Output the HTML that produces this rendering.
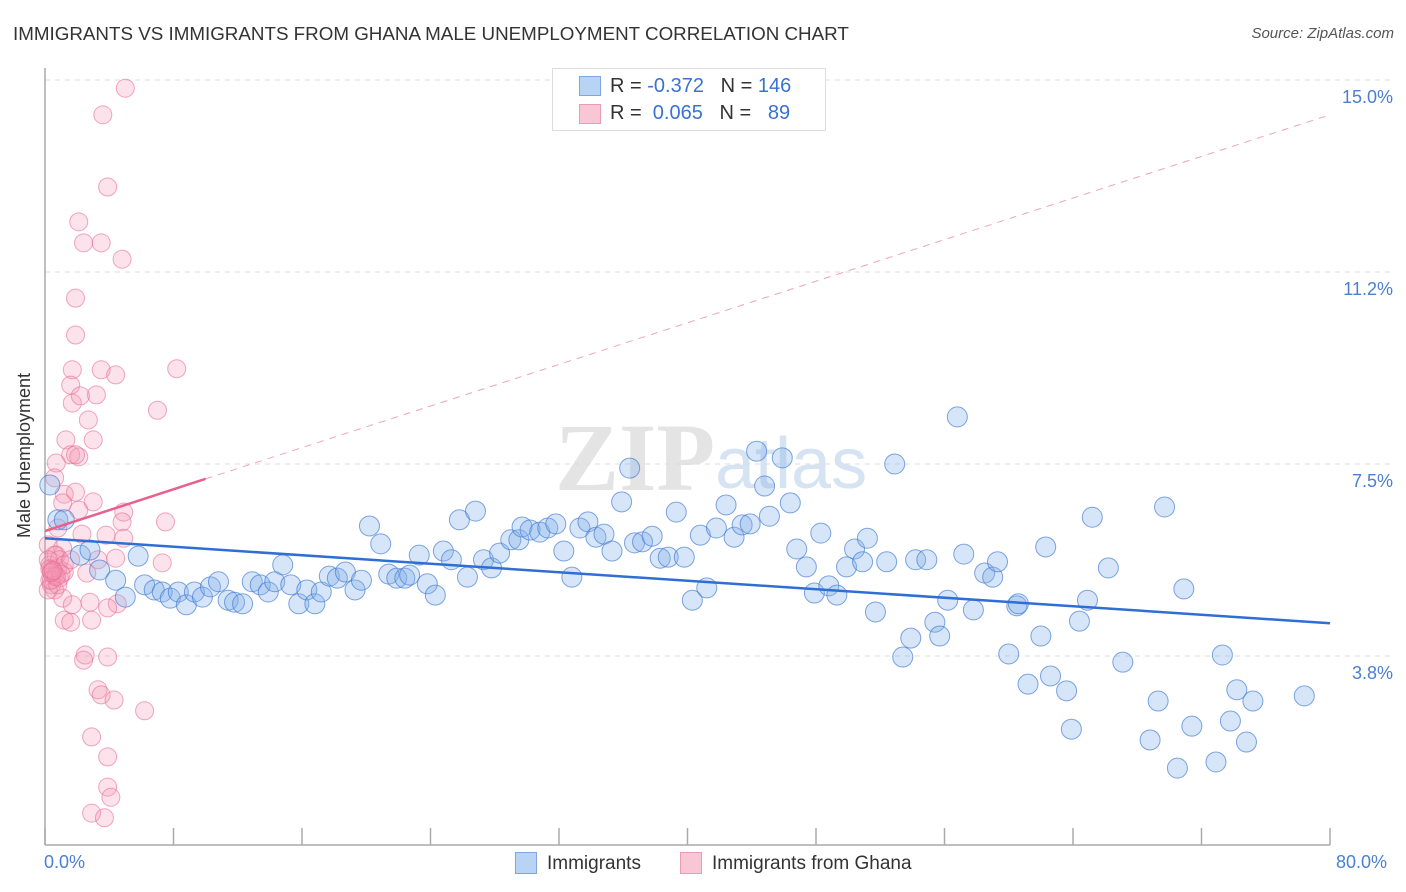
<!DOCTYPE html>
<html><head><meta charset="utf-8"><style>
body{margin:0;background:#fff;font-family:"Liberation Sans",sans-serif;}
#wrap{position:relative;width:1406px;height:892px;overflow:hidden;}
.t{position:absolute;white-space:nowrap;}
</style></head><body>
<div id="wrap">
<div class="t" style="left:13px;top:23px;font-size:18.8px;color:#333;">IMMIGRANTS VS IMMIGRANTS FROM GHANA MALE UNEMPLOYMENT CORRELATION CHART</div>
<div class="t" style="right:12px;top:25px;font-size:15px;color:#555;font-style:italic;">Source: ZipAtlas.com</div>
<svg id="svg" width="1406" height="892" style="position:absolute;left:0;top:0"></svg>
</div>
<script>
const xTicks=[0,8,16,24,32,40,48,56,64,72,80];
const yTicks=[3.75,7.5,11.25,15];
const yTickLabels=["3.8%","7.5%","11.2%","15.0%"];
const blueX=[0.3,0.8,1.2,2.2,2.8,3.4,4.4,5.0,5.8,6.2,6.8,7.3,7.8,8.3,8.8,9.3,9.8,10.3,10.8,11.4,11.8,12.3,12.9,13.4,13.9,14.3,14.8,15.3,15.8,16.3,16.8,17.2,17.7,18.2,18.7,19.3,19.7,20.2,20.9,21.4,21.9,22.4,22.7,23.3,23.8,24.3,24.8,25.3,25.8,26.3,26.8,27.3,27.8,28.3,29.0,29.5,29.7,30.2,30.8,31.3,31.8,32.3,32.8,33.3,33.8,34.3,34.8,35.3,35.9,36.4,36.7,37.2,37.8,38.3,38.8,39.3,39.8,40.3,40.8,41.2,41.8,42.4,42.9,43.4,43.9,44.3,44.8,45.1,45.9,46.4,46.8,47.4,47.9,48.3,48.8,49.3,49.9,50.4,50.9,51.2,51.7,52.4,52.9,53.4,53.9,54.2,54.9,55.4,55.7,56.2,56.8,57.2,57.8,58.5,59.0,59.3,60.0,60.5,60.6,61.2,62.0,62.3,62.6,63.6,63.9,64.4,64.9,65.2,66.2,67.1,68.8,69.3,69.7,70.5,70.9,71.4,72.9,73.3,73.8,74.2,74.8,75.2,78.4];
const blueY=[7.09,6.41,6.41,5.72,5.82,5.43,5.23,4.90,5.70,5.14,5.04,5.00,4.88,5.00,4.75,5.00,4.90,5.10,5.20,4.84,4.80,4.77,5.20,5.14,5.00,5.20,5.53,5.14,4.77,5.04,4.77,5.00,5.31,5.27,5.39,5.04,5.23,6.29,5.94,5.35,5.27,5.27,5.33,5.72,5.16,4.94,5.80,5.63,6.41,5.29,6.58,5.63,5.47,5.76,6.02,6.02,6.27,6.21,6.17,6.25,6.33,5.80,5.29,6.25,6.37,6.07,6.13,5.80,6.76,7.42,5.96,5.98,6.09,5.66,5.68,6.56,5.68,4.84,6.11,5.08,6.25,6.70,6.07,6.31,6.33,7.75,7.07,6.48,7.62,6.74,5.84,5.49,4.98,6.15,5.12,4.94,5.49,5.84,5.59,6.05,4.61,5.59,7.50,3.73,4.10,5.63,5.63,4.41,4.14,4.84,8.42,5.74,4.65,5.37,5.29,5.59,3.79,4.73,4.77,3.20,4.14,5.88,3.36,3.07,2.32,4.43,4.84,6.46,5.47,3.63,2.11,2.87,6.66,1.56,5.06,2.38,1.68,3.77,2.48,3.09,2.07,2.87,2.97];
const pinkX=[5.0,3.6,3.9,2.1,2.4,3.5,4.8,1.9,1.9,1.7,3.5,4.4,8.2,1.6,3.2,1.7,2.2,7.0,2.7,1.3,3.0,1.6,2.1,1.9,0.7,0.6,1.2,1.9,3.0,1.1,2.1,4.9,7.5,4.8,0.8,2.3,3.8,4.9,0.2,1.1,0.7,3.3,4.4,7.3,0.3,0.4,0.6,0.8,0.9,1.2,2.6,0.4,0.6,1.1,1.7,2.8,4.5,3.9,1.2,1.6,2.9,2.5,2.4,3.9,3.3,3.5,4.3,6.2,2.9,3.9,3.9,4.1,2.9,3.7,0.3,0.6,0.9,0.2,0.4,0.2,0.8,1.2,1.6,0.5,0.3,1.0,0.7,0.4,0.5];
const pinkY=[14.84,14.32,12.91,12.23,11.82,11.82,11.50,10.74,10.02,9.34,9.34,9.24,9.36,9.04,8.85,8.69,8.83,8.55,8.36,7.97,7.97,7.68,7.64,7.68,7.52,7.23,6.91,6.95,6.76,6.74,6.60,6.56,6.37,6.37,6.25,6.13,6.11,6.05,5.92,5.86,5.72,5.63,5.66,5.57,5.53,5.43,5.33,5.47,5.27,5.39,5.37,5.14,5.04,4.88,4.75,4.80,4.77,4.69,4.45,4.41,4.45,3.77,3.67,3.73,3.09,2.99,2.89,2.68,2.17,1.78,1.19,0.99,0.68,0.59,5.23,5.72,5.63,5.63,5.23,5.04,5.14,5.53,5.63,5.40,5.45,5.35,5.30,5.38,5.42];
const blueTrend=[[0,6.05],[80,4.39]];
const pinkTrend=[[0,6.19],[10,7.21],[80,14.32]];

const X0=45,X1=1330,Y0=848,YP=51.2;
const sx=v=>X0+(v/80)*(X1-X0);
const sy=v=>Y0-v*YP;
const svg=document.getElementById('svg');
const NS='http://www.w3.org/2000/svg';
function mk(tag,attrs){const e=document.createElementNS(NS,tag);for(const k in attrs)e.setAttribute(k,attrs[k]);svg.appendChild(e);return e;}

let wm=mk('text',{x:555,y:490,'font-size':96,'font-family':'Liberation Serif,serif',fill:'#e4e4e4','font-weight':'bold'});wm.textContent='ZIP';


let wm2=mk('text',{x:715,y:488,'font-size':72,'font-family':'Liberation Sans,sans-serif',fill:'#d5e3f3'});wm2.textContent='atlas';



yTicks.forEach((v,i)=>{
 const g=mk('line',{x1:X0,x2:1392,y1:sy(v),y2:sy(v),stroke:'#dcdcdc','stroke-dasharray':'5,5'});
 
 
 const t=mk('text',{x:1393,y:sy(v)+23,'text-anchor':'end','font-size':18,fill:'#4a7fd4','font-family':'Liberation Sans,sans-serif'});
 t.textContent=yTickLabels[i];
 
 
});
const gt=mk('line',{x1:X0,x2:1392,y1:80,y2:80,stroke:'#dcdcdc','stroke-dasharray':'5,5'});


const ay=mk('line',{x1:X0,x2:X0,y1:68,y2:845,stroke:'#aaa','stroke-width':1.5});


const ax=mk('line',{x1:X0,x2:X1,y1:845,y2:845,stroke:'#aaa','stroke-width':1.5});


xTicks.forEach(v=>{const t=mk('line',{x1:sx(v),x2:sx(v),y1:828,y2:845,stroke:'#aaa','stroke-width':1.5});
 
 });

function pts(xs,ys,fill,stroke,name,r){
 xs.forEach((x,i)=>{const c=mk('circle',{cx:sx(x),cy:sy(ys[i]),r:r,fill:fill,stroke:stroke,'stroke-width':1});
  
  });
}
pts(pinkX,pinkY,'rgba(244,150,180,0.28)','rgba(232,110,150,0.6)','ghana-point',9);
pts(blueX,blueY,'rgba(130,175,235,0.33)','rgba(60,120,210,0.65)','immigrants-point',10);

const bt=mk('line',{x1:sx(blueTrend[0][0]),y1:sy(blueTrend[0][1]),x2:sx(blueTrend[1][0]),y2:sy(blueTrend[1][1]),stroke:'#2f6fd4','stroke-width':2.5});


const pt1=mk('line',{x1:sx(pinkTrend[0][0]),y1:sy(pinkTrend[0][1]),x2:sx(pinkTrend[1][0]),y2:sy(pinkTrend[1][1]),stroke:'#e8608c','stroke-width':2.5});


const pt2=mk('line',{x1:sx(pinkTrend[1][0]),y1:sy(pinkTrend[1][1]),x2:sx(pinkTrend[2][0]),y2:sy(pinkTrend[2][1]),stroke:'#efa3bd','stroke-width':1,'stroke-dasharray':'7,6'});


</script>
<div class="t" style="left:-58px;top:445px;font-size:18px;color:#333;transform:rotate(-90deg);">Male Unemployment</div>
<div class="t" style="left:44px;top:852px;font-size:18px;color:#4a7fd4;">0.0%</div>
<div class="t" style="left:1336px;top:852px;font-size:18px;color:#4a7fd4;">80.0%</div>
<div style="position:absolute;left:552px;top:68px;width:272px;height:61px;border:1px solid #ddd;background:#fff;font-size:20px;">
 <div style="position:absolute;left:26px;top:7px;width:20px;height:18px;background:#b9d3f5;border:1px solid #7ea6e0;"></div>
 <div class="t" style="left:57px;top:6px;color:#333;">R = <span style="color:#3a72d0">-0.372</span>&nbsp;&nbsp;&nbsp;N = <span style="color:#3a72d0">146</span></div>
 <div style="position:absolute;left:26px;top:35px;width:20px;height:18px;background:#f8c6d5;border:1px solid #eb9bb5;"></div>
 <div class="t" style="left:57px;top:33px;color:#333;">R = &nbsp;<span style="color:#3a72d0">0.065</span>&nbsp;&nbsp;&nbsp;N = &nbsp;&nbsp;<span style="color:#3a72d0">89</span></div>
</div>
<div style="position:absolute;left:515px;top:852px;font-size:19px;color:#333;">
 <div style="position:absolute;left:0;top:0;width:20px;height:20px;background:#b9d3f5;border:1px solid #7ea6e0;"></div>
 <div class="t" style="left:32px;top:1px;">Immigrants</div>
 <div style="position:absolute;left:165px;top:0;width:20px;height:20px;background:#f8c6d5;border:1px solid #eb9bb5;"></div>
 <div class="t" style="left:197px;top:1px;">Immigrants from Ghana</div>
</div>
</body></html>
